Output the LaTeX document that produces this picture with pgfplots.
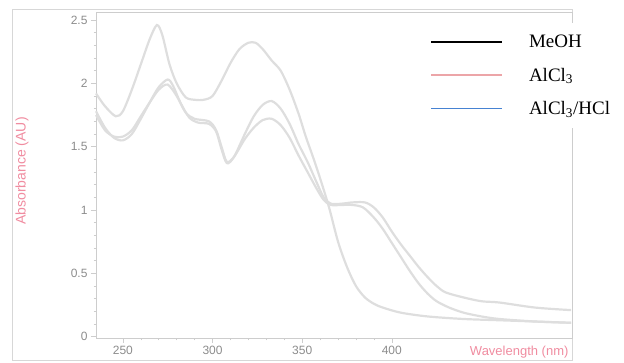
\documentclass[border=0pt]{standalone}
\usepackage{pgfplots}
\pgfplotsset{compat=1.18}
\usepackage{fontspec}
\setmainfont{Liberation Sans}
\newfontfamily\seriffont{Liberation Serif}
\definecolor{curve}{RGB}{222,222,222}
\definecolor{framec}{RGB}{215,215,215}
\definecolor{axc}{RGB}{205,205,205}
\definecolor{tickc}{RGB}{140,140,140}
\definecolor{pinklab}{RGB}{240,140,160}
\definecolor{legpink}{RGB}{236,165,168}
\definecolor{legblue}{RGB}{70,130,210}

\pgfplotstableread{
x y
235 1.92
240 1.82
246 1.74
250 1.78
255 1.95
260 2.15
265 2.35
269 2.46
272 2.38
276 2.15
280 2.00
285 1.89
290 1.87
295 1.87
300 1.90
305 2.02
310 2.16
315 2.27
320 2.32
324 2.32
328 2.27
333 2.18
338 2.10
343 1.95
348 1.76
352 1.58
356 1.42
360 1.25
365 1.02
370 0.75
375 0.55
380 0.40
385 0.31
390 0.26
395 0.23
405 0.19
420 0.16
440 0.14
460 0.13
480 0.12
500 0.11
}\meoh

\pgfplotstableread{
x y
235 1.78
240 1.65
245 1.57
250 1.55
255 1.60
260 1.72
265 1.85
270 1.97
275 2.03
278 1.98
282 1.85
287 1.73
292 1.69
298 1.68
302 1.62
305 1.48
308 1.37
312 1.42
318 1.60
323 1.74
328 1.83
333 1.86
338 1.80
343 1.68
348 1.52
353 1.38
358 1.22
362 1.10
366 1.05
372 1.05
378 1.06
385 1.06
390 1.02
395 0.94
400 0.83
405 0.73
410 0.64
415 0.55
420 0.47
425 0.40
430 0.35
440 0.31
450 0.28
460 0.27
480 0.23
500 0.21
}\alcl

\pgfplotstableread{
x y
235 1.75
240 1.63
245 1.58
250 1.58
255 1.63
260 1.74
265 1.85
270 1.95
275 1.99
280 1.90
285 1.77
290 1.72
298 1.70
302 1.63
305 1.50
308 1.38
312 1.42
318 1.56
323 1.65
328 1.71
333 1.72
338 1.67
343 1.57
348 1.43
353 1.30
358 1.17
362 1.08
366 1.04
372 1.04
378 1.04
384 1.02
390 0.94
395 0.85
400 0.74
405 0.63
410 0.52
415 0.42
420 0.34
425 0.28
432 0.23
440 0.19
450 0.16
460 0.14
480 0.12
500 0.11
}\alclhcl

\begin{document}
\begin{tikzpicture}[x=1pt,y=1pt]
\useasboundingbox (0,0) rectangle (624,363);
\draw[color=framec, line width=1pt] (12,2) rectangle (572,353);
\node[rotate=90, text=pinklab, font=\fontsize{14}{16}\selectfont] at (22,192) {Absorbance (AU)};
\begin{axis}[
  at={(96pt,25pt)}, anchor=south west,
  scale only axis, width=476pt, height=326pt,
  xmin=235, xmax=500.5, ymin=-0.01, ymax=2.563,
  axis line style={axc, line width=0.8pt},
  xtick={250,300,350,400}, ytick={0,0.5,1,1.5,2,2.5},
  minor x tick num=4, minor y tick num=4,
  xtick pos=bottom, ytick pos=left,
  tick align=outside,
  major tick length=5pt, minor tick length=2.5pt,
  every tick/.style={axc, line width=0.6pt},
  tick label style={text=tickc, font=\fontsize{12}{14}\selectfont},
  /pgf/number format/assume math mode=true,
  legend style={at={(0.7017,0.966)}, anchor=north west, draw=none, fill=white,
    font=\seriffont\fontsize{19}{21}\selectfont, row sep=14.5pt, inner xsep=0pt, inner ysep=10pt,
    /tikz/every odd column/.append style={column sep=24pt}},
  legend cell align=left,
  legend image code/.code={\draw[#1] (0pt,0pt) -- (71pt,0pt);},
  clip=false,
]
\addplot[curve, line width=2.2pt, smooth, forget plot] table {\meoh};
\addplot[curve, line width=2.2pt, smooth, forget plot] table {\alcl};
\addplot[curve, line width=2.2pt, smooth, forget plot] table {\alclhcl};
\addlegendimage{black, line width=1.8pt}
\addlegendentry{MeOH}
\addlegendimage{legpink, line width=1.6pt}
\addlegendentry{AlCl\textsubscript{3}}
\addlegendimage{legblue, line width=1.6pt}
\addlegendentry{AlCl\textsubscript{3}/HCl}
\end{axis}
\node[anchor=east, text=pinklab, font=\fontsize{13}{15}\selectfont] at (572,11) {Wavelength (nm)};
\end{tikzpicture}
\end{document}
